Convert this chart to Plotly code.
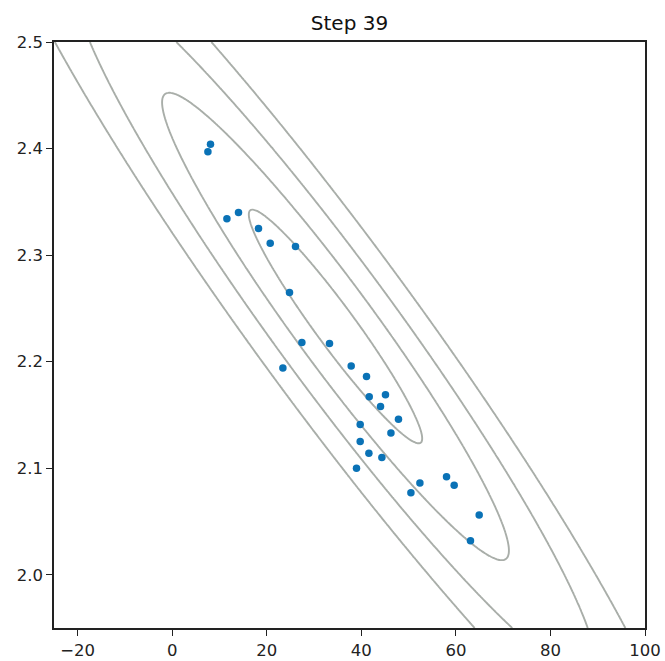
import numpy as np
import plotly.graph_objects as go

# ---- data: sample points ----
xs_pts = [8.10, 7.55, 11.57, 14.02, 18.25, 20.73, 26.08, 24.81, 27.43, 33.27,
          23.41, 37.86, 41.10, 41.67, 45.11, 44.06, 47.86, 39.76, 46.26, 39.76,
          41.60, 44.35, 38.98, 52.39, 58.02, 59.64, 50.49, 64.93, 63.09]
ys_pts = [2.404, 2.397, 2.334, 2.340, 2.325, 2.311, 2.308, 2.265, 2.218, 2.217,
          2.194, 2.196, 2.186, 2.167, 2.169, 2.158, 2.146, 2.141, 2.133, 2.125,
          2.114, 2.110, 2.100, 2.086, 2.092, 2.084, 2.077, 2.056, 2.032]

# ---- contour model (elliptical density) parameters ----
center = [34.54, 2.2330]
major_axis = [18.02, -0.10911]   # semi-axis vector at level 1
minor_axis = [3.409, 0.011099]   # semi-axis vector at level 1
levels = [1, 2, 3, 4]

x_ticks = [-20, 0, 20, 40, 60, 80, 100]
y_ticks = [2.0, 2.1, 2.2, 2.3, 2.4, 2.5]
y_tick_labels = ["2.0", "2.1", "2.2", "2.3", "2.4", "2.5"]
title = "Step 39"

# grid for contour
gx = np.linspace(-25, 100, 400)
gy = np.linspace(1.95, 2.5, 400)
GX, GY = np.meshgrid(gx, gy)
M = np.array([[major_axis[0], minor_axis[0]], [major_axis[1], minor_axis[1]]])
Minv = np.linalg.inv(M)
DX = GX - center[0]
DY = GY - center[1]
U = Minv[0, 0] * DX + Minv[0, 1] * DY
V = Minv[1, 0] * DX + Minv[1, 1] * DY
R = np.sqrt(U ** 2 + V ** 2)

gray = "#a9aea9"
fig = go.Figure()
fig.add_trace(go.Contour(
    x=gx, y=gy, z=R,
    contours=dict(start=levels[0], end=levels[-1], size=1, coloring="lines"),
    colorscale=[[0, gray], [1, gray]],
    line=dict(width=1.9),
    showscale=False, hoverinfo="skip",
))
fig.add_trace(go.Scatter(
    x=xs_pts, y=ys_pts, mode="markers",
    marker=dict(color="#0a72b6", size=7.5),
    showlegend=False,
))

axis_common = dict(
    showline=True, mirror=True, linecolor="#222", linewidth=1.5,
    ticks="outside", ticklen=6, tickwidth=1.3, tickcolor="#222",
    showgrid=False, zeroline=False, automargin=False,
    tickfont=dict(family="DejaVu Sans", size=16.5, color="#222"),
)
fig.update_layout(
    width=665, height=661,
    margin=dict(l=54, r=20, t=42, b=33),
    paper_bgcolor="white", plot_bgcolor="white",
    title=dict(text=title, x=0.5, xanchor="center", xref="paper",
               y=1 - 23 / 661, yanchor="middle",
               font=dict(family="DejaVu Sans", size=20, color="#111")),
    xaxis=dict(range=[-25, 100], tickvals=x_ticks, **axis_common),
    yaxis=dict(range=[1.95, 2.5], tickvals=y_ticks, ticktext=y_tick_labels, **axis_common),
    showlegend=False,
)
fig.write_html("out.html")
